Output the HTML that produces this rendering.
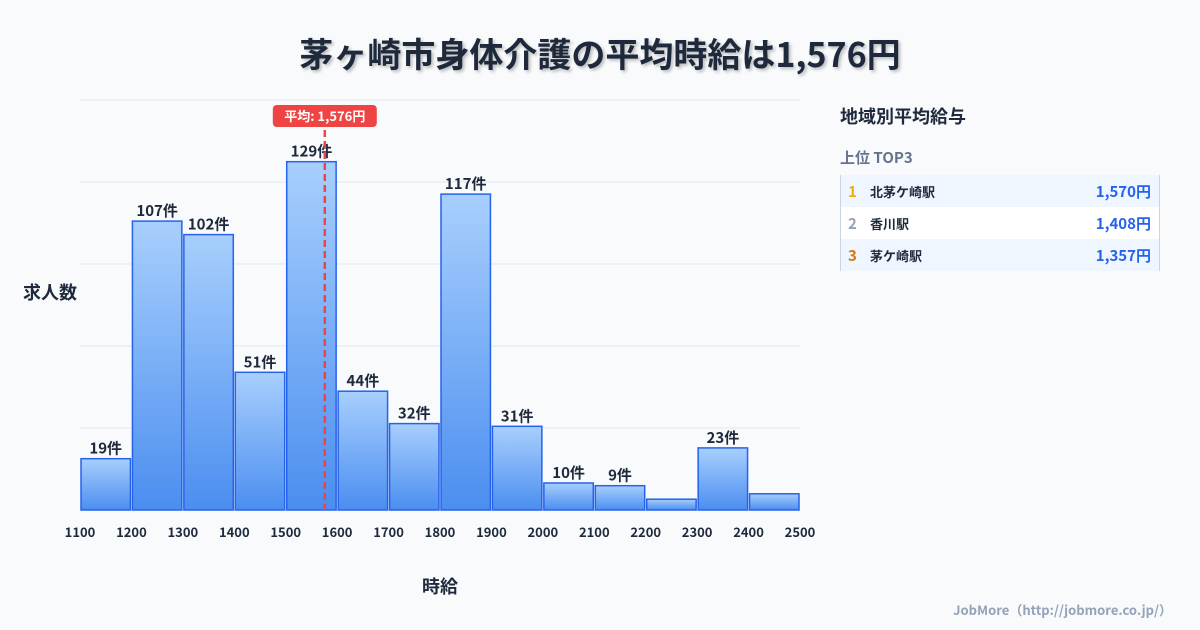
<!DOCTYPE html>
<html><head><meta charset="utf-8"><style>
body{margin:0;width:1200px;height:630px;background:#f8fafc;font-family:"Noto Sans CJK JP","Liberation Sans",sans-serif;overflow:hidden;position:relative}
#title{position:absolute;top:28px;left:0;width:1200px;text-align:center;font-size:34px;line-height:50px;font-weight:bold;color:#1e293b;text-shadow:2px 2px 3px rgba(0,0,0,0.25)}
#panel{position:absolute;left:840px;top:100px;width:320px}
.ph{font-size:18px;line-height:30px;font-weight:bold;color:#1e293b;margin-top:1px}
.sub{font-size:15px;line-height:22px;font-weight:bold;color:#64748b;margin-top:16px}
.tbl{margin-top:6px;border-left:1px solid #cbd5e1;border-right:1px solid #cbd5e1}
.row{height:32px;display:flex;align-items:center;font-size:13px;font-weight:bold;color:#1e293b;background:#eff6ff}
.row.w{background:#fff}
.rk{width:16px;margin-left:7px;font-size:15px}
.nm{flex:1;margin-left:6px}
.vl{color:#2563eb;font-size:15px;margin-right:8px}
#foot{position:absolute;right:28px;top:600px;font-size:13px;font-weight:bold;color:#94a3b8}
</style></head><body>
<div id="title">茅ヶ崎市身体介護の平均時給は1,576円</div>
<svg id="chart" width="1200" height="630" style="position:absolute;left:0;top:0;font-family:'Noto Sans CJK JP','Liberation Sans',sans-serif">
<defs><linearGradient id="g" x1="0" y1="0" x2="0" y2="1"><stop offset="0" stop-color="#a8cffd"/><stop offset="1" stop-color="#4b8ef0"/></linearGradient></defs>
<g id="grid"></g><g id="bars"></g><g id="xt"></g><g id="avg"></g>
<text x="50" y="299" text-anchor="middle" font-size="18" font-weight="bold" fill="#1e293b">求人数</text>
<text x="440" y="593" text-anchor="middle" font-size="18" font-weight="bold" fill="#1e293b">時給</text>
</svg>
<div id="panel">
<div class="ph">地域別平均給与</div>
<div class="sub">上位 TOP3</div>
<div class="tbl">
<div class="row"><span class="rk" style="color:#eab308">1</span><span class="nm">北茅ケ崎駅</span><span class="vl">1,570円</span></div>
<div class="row w"><span class="rk" style="color:#94a3b8">2</span><span class="nm">香川駅</span><span class="vl">1,408円</span></div>
<div class="row"><span class="rk" style="color:#d97706">3</span><span class="nm">茅ケ崎駅</span><span class="vl">1,357円</span></div>
</div></div>
<div id="foot">JobMore（http://jobmore.co.jp/）</div>
<script>
const binStarts=[1100,1200,1300,1400,1500,1600,1700,1800,1900,2000,2100,2200,2300,2400];
const counts=[19,107,102,51,129,44,32,117,31,10,9,4,23,6];
const showLabel=[1,1,1,1,1,1,1,1,1,1,1,0,1,0];
const xTicks=[1100,1200,1300,1400,1500,1600,1700,1800,1900,2000,2100,2200,2300,2400,2500];
const avgValue=1576;
const NS="http://www.w3.org/2000/svg";
const x=v=>80+(v-1100)*720/1400;
const y=v=>510-v*2.7;
function mk(t,a,p){const e=document.createElementNS(NS,t);for(const k in a)e.setAttribute(k,a[k]);p.appendChild(e);return e;}
const grid=document.getElementById('grid');
for(let i=0;i<=5;i++){const gy=510-i*82;const l=mk('line',{x1:80,x2:800,y1:gy,y2:gy,stroke:'#e2e8f0','stroke-width':1},grid);

}
const bars=document.getElementById('bars');
binStarts.forEach((s,i)=>{const x0=x(s)+1,x1=x(s+100)-1,yt=y(counts[i]);
const r=mk('rect',{x:x0,y:yt,width:x1-x0,height:510-yt,fill:'url(#g)',stroke:'#2563eb','stroke-width':1.5},bars);


if(showLabel[i]){const t=mk('text',{x:(x0+x1)/2,y:yt-5,'text-anchor':'middle','font-size':15,'font-weight':'bold',fill:'#1e293b'},bars);t.textContent=counts[i]+'件';

}});
const xt=document.getElementById('xt');
xTicks.forEach(v=>{const t=mk('text',{x:x(v),y:537,'text-anchor':'middle','font-size':13,'font-weight':'bold',fill:'#1e293b'},xt);t.textContent=v;

});
const ag=document.getElementById('avg');const ax=x(avgValue);
const al=mk('line',{x1:ax,x2:ax,y1:130,y2:510,stroke:'#ef4444','stroke-width':2.5,'stroke-dasharray':'7,4'},ag);


const ab=mk('rect',{x:ax-52,y:105,width:104,height:22,rx:4,fill:'#ef4444'},ag);


const at=mk('text',{x:ax,y:121,'text-anchor':'middle','font-size':13,'font-weight':'bold',fill:'#fff'},ag);
at.textContent='平均: '+avgValue.toLocaleString('en-US')+'円';


</script>
</body></html>
